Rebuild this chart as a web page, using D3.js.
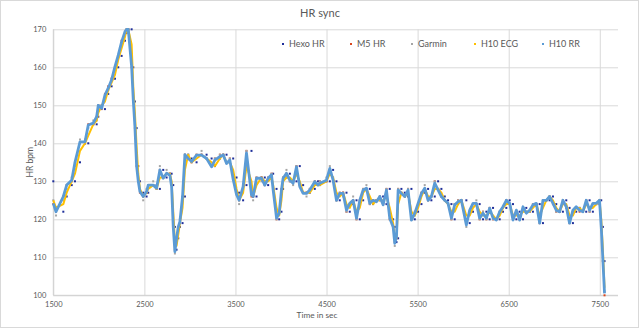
<!DOCTYPE html>
<html>
<head>
<meta charset="utf-8">
<script src="https://cdn.jsdelivr.net/npm/d3@7"></script>
<style>
  html, body { margin: 0; padding: 0; background: #fff; }
  svg { display: block; font-family: Lato, "Open Sans", "Liberation Sans", sans-serif; }
</style>
</head>
<body>
<svg id="chart" width="640" height="329"></svg>
<script>
// ---- data ----
const times = [
  1500,1530,1610,1647,1702,1738,1793,1848,1884,1939,
  1976,1994,2031,2067,2103,2140,2177,2213,2250,2287,
  2305,2323,2360,2378,2396,2415,2433,2451,2487,2524,
  2542,2597,2634,2670,2707,2744,2780,2799,2817,2835,
  2853,2872,2890,2919,2945,2981,3018,3073,3128,3183,
  3238,3274,3329,3366,3402,3438,3475,3512,3540,3584,
  3621,3676,3694,3731,3786,3822,3859,3896,3914,3951,
  3980,4005,4023,4060,4097,4133,4170,4206,4243,4280,
  4316,4371,4407,4426,4499,4536,4572,4609,4645,4682,
  4719,4755,4792,4829,4865,4902,4938,4975,5011,5048,
  5085,5121,5158,5194,5231,5249,5268,5286,5322,5359,
  5395,5432,5469,5505,5542,5578,5615,5651,5688,5725,
  5761,5798,5834,5871,5907,5944,5980,6035,6072,6108,
  6145,6181,6218,6255,6291,6328,6364,6401,6437,6474,
  6511,6547,6584,6620,6657,6693,6730,6766,6803,6840,
  6876,6913,6949,6986,7022,7059,7095,7132,7168,7205,
  7241,7278,7315,7351,7388,7424,7461,7497,7516,7534,
  7552
];
const hexoHR = [
  130,123,122,126,129,130,135,140,140,145,
  145,147,150,149,153,155,157,160,163,167,
  169,170,170,160,151,144,134,130,127,126,
  127,129,129,128,133,131,132,132,129,118,
  112,115,118,119,126,137,136,135,137,137,
  136,134,136,137,137,135,136,131,127,125,
  129,138,126,126,131,131,129,131,132,128,
  120,122,128,131,132,130,130,134,129,127,
  127,128,130,129,130,130,133,130,125,127,
  127,122,124,125,120,125,128,128,124,125,
  125,126,124,128,120,118,114,115,128,127,
  126,128,120,122,124,127,128,125,126,130,
  128,126,125,124,120,124,125,125,119,122,
  124,124,120,122,120,123,120,120,122,123,
  125,124,120,122,120,123,122,122,124,124,
  119,125,125,126,124,122,122,125,123,119,
  122,123,122,122,125,122,124,124,125,118,
  109
];
const m5HR = [
  124,122,126,129,130,135,140,140,145,145,
  147,150,149,153,155,157,160,163,167,169,
  170,170,160,151,144,134,130,127,126,127,
  129,129,128,133,131,132,132,129,118,112,
  115,118,119,126,137,136,135,137,137,136,
  134,136,137,137,135,136,131,127,125,129,
  138,126,126,131,131,129,131,132,128,120,
  122,128,131,132,130,130,134,129,127,127,
  128,130,129,130,130,133,130,125,127,127,
  122,124,125,120,125,128,128,124,125,125,
  126,124,128,120,118,114,115,128,127,126,
  128,120,122,124,127,128,125,126,130,128,
  126,125,124,120,124,125,125,119,122,124,
  124,120,122,120,123,120,120,122,123,125,
  124,120,122,120,123,122,122,124,124,119,
  125,125,126,124,122,122,125,123,119,122,
  123,122,122,125,122,124,124,125,118,109,
  100
];
const garminHR = [
  125,121,125,128,131,134,141,141,144,146,
  146,150,150,152,154,157,160,163,166,169,
  170,170,161,152,145,135,130,128,125,128,
  129,130,128,134,131,133,132,129,119,111,
  114,117,120,125,137,137,135,137,138,136,
  134,136,137,137,135,136,131,127,124,128,
  138,127,125,131,130,129,131,132,128,120,
  122,127,131,133,130,129,134,129,127,126,
  128,130,129,130,131,134,131,125,127,126,
  122,124,126,120,125,128,129,124,125,125,
  126,124,128,120,118,113,116,128,127,126,
  128,120,121,124,127,129,125,126,130,128,
  126,125,124,120,124,125,125,118,122,124,
  125,120,122,120,123,120,120,122,123,125,
  124,120,122,120,123,122,122,124,124,119,
  125,125,126,124,122,122,125,123,119,122,
  123,123,122,125,122,124,124,125,118,109,
  101
];
const h10ECG = [
  125,123,124,127,130,132,138,140,142,145,
  146,148,150,151,154,156,158,162,165,168,
  170,170,166,155,148,139,132,128,126,127,
  128,129,128,131,131,132,132,130,122,114,
  113,116,119,123,133,137,135,136,137,136,
  135,134,136,137,135,135,133,128,125,127,
  134,130,126,129,131,130,130,131,129,123,
  121,125,130,131,131,130,132,130,127,127,
  127,129,129,129,130,132,131,127,126,127,
  124,123,125,122,123,127,128,126,124,125,
  125,125,126,123,119,115,115,124,127,126,
  127,122,121,123,126,128,126,126,128,128,
  127,125,124,122,122,124,125,121,121,123,
  124,122,121,121,122,121,120,121,123,124,
  124,121,121,121,122,122,122,123,124,121,
  123,125,126,125,123,122,124,124,121,121,
  123,123,122,124,123,123,124,125,120,112,
  102
];
const h10RR = [
  124.2,122,126,129,130.3,135,140.4,140.4,144.8,145.3,
  147,150,149.2,152.7,154.5,156.7,160.2,163.2,166.7,169.4,
  170,170,160.2,151.4,144.4,134,130,127.3,126,127.3,
  129,129,128.2,133,130.8,132.1,131.6,128.6,118,111.5,
  115,118,119.4,126,137,136,135.2,136.9,136.9,136,
  133.8,135.6,136.5,136.9,134.7,135.6,130.5,126.5,125,128.6,
  137.5,126.4,126,130.8,130.8,129,130.8,131.7,127.7,120.3,
  121.6,127.7,130.8,132.1,130.3,129.5,133.8,128.6,126.8,126.8,
  127.7,129.9,129,129.5,130.3,133.4,130.3,125,126.8,126.8,
  122.4,124.2,125,120.3,125,127.7,128.2,124.2,125,124.6,
  126,123.8,127.7,120.3,118,113.7,115.4,127.7,126.8,126,
  127.7,119.8,121.6,124.2,126.8,128.2,125,126,129.5,127.7,
  126,125,124.2,120.3,123.8,124.6,125,118.5,122.4,124.2,
  124.2,120.3,121.6,120.3,122.9,120.3,119.8,122,123.3,125,
  124.2,119.8,122.4,119.8,123.3,121.6,122.4,123.8,124.2,119,
  125,125,126,124.2,122.4,122,125,123.3,119,122.4,
  123.3,122.4,122,125,122.4,124.2,124.2,125,118,109.3,
  100.5
];
const seriesNames = ["Hexo HR", "M5 HR", "Garmin", "H10 ECG", "H10 RR"];
const xTicks = [1500, 2500, 3500, 4500, 5500, 6500, 7500];
const yTicks = [100, 110, 120, 130, 140, 150, 160, 170];
const xDomain = [1500, 7700];
const yDomain = [100, 170];

// ---- layout ----
const svg = d3.select("#chart");
const W = 640, H = 329;
const plot = { left: 53.3, right: 618, top: 29.3, bottom: 295.3 };
const textColor = "#595959";
const gridColor = "#d9d9d9";

svg.append("rect").attr("x", 0.5).attr("y", 0.5).attr("width", W - 2).attr("height", H - 2)
  .attr("fill", "#fff").attr("stroke", "#d9d9d9").attr("stroke-width", 1);

const x = d3.scaleLinear().domain(xDomain).range([plot.left, plot.right]);
const y = d3.scaleLinear().domain(yDomain).range([plot.bottom, plot.top]);

// gridlines
const gx = svg.append("g").attr("transform", `translate(0,${plot.top})`)
  .call(d3.axisTop(x).tickValues(xTicks).tickSize(-(plot.bottom - plot.top)).tickFormat(""));
gx.select(".domain").remove();
gx.selectAll("line").attr("stroke", gridColor);

const gy = svg.append("g").attr("transform", `translate(${plot.left},0)`)
  .call(d3.axisLeft(y).tickValues(yTicks).tickSize(-(plot.right - plot.left)).tickFormat(""));
gy.select(".domain").remove();
gy.selectAll("line").attr("stroke", gridColor);

// axis lines
svg.append("line").attr("x1", plot.left).attr("x2", plot.right)
  .attr("y1", y(100)).attr("y2", y(100)).attr("stroke", "#d0d0d0");
svg.append("line").attr("x1", x(1500)).attr("x2", x(1500))
  .attr("y1", plot.top).attr("y2", plot.bottom).attr("stroke", "#d0d0d0");

// tick labels
const xa = svg.append("g").attr("transform", `translate(0,${plot.bottom})`)
  .call(d3.axisBottom(x).tickValues(xTicks).tickSize(0).tickPadding(6).tickFormat(d3.format("d")));
xa.select(".domain").remove();
xa.selectAll("text").attr("fill", textColor).style("font-size", "7.5px")
  .style("font-family", "Lato, 'Open Sans', sans-serif");

const ya = svg.append("g").attr("transform", `translate(${plot.left},0)`)
  .call(d3.axisLeft(y).tickValues(yTicks).tickSize(0).tickPadding(7).tickFormat(d3.format("d")));
ya.select(".domain").remove();
ya.selectAll("text").attr("fill", textColor).style("font-size", "7.5px")
  .style("font-family", "Lato, 'Open Sans', sans-serif");

// titles
svg.append("text").attr("x", 320).attr("y", 17).attr("text-anchor", "middle")
  .attr("fill", textColor).style("font-size", "11px").text("HR sync");
svg.append("text").attr("x", 317).attr("y", 317.5).attr("text-anchor", "middle")
  .attr("fill", textColor).style("font-size", "8.3px").text("Time in sec");
svg.append("text").attr("transform", `translate(33,${(plot.top + plot.bottom) / 2}) rotate(-90)`)
  .attr("text-anchor", "middle").attr("fill", textColor).style("font-size", "8.5px").text("HR bpm");

// clip
svg.append("clipPath").attr("id", "clip").append("rect")
  .attr("x", plot.left - 3).attr("y", plot.top - 3)
  .attr("width", plot.right - plot.left + 6).attr("height", plot.bottom - plot.top + 6);
const marks = svg.append("g").attr("clip-path", "url(#clip)");

function pts(vals) {
  const n = Math.min(times.length, vals.length);
  return d3.range(n).map(i => [times[i], vals[i]]);
}

function dots(vals, color) {
  marks.append("g").selectAll("rect").data(pts(vals)).join("rect")
    .attr("x", d => x(d[0]) - 1).attr("y", d => y(d[1]) - 1)
    .attr("width", 2).attr("height", 2).attr("fill", color);
}

const line = d3.line().x(d => x(d[0])).y(d => y(d[1]));

dots(hexoHR, "#1f2f9a");
dots(m5HR, "#d9461e");
dots(garminHR, "#a5a5a5");
marks.append("path").attr("d", line(pts(h10ECG))).attr("fill", "none")
  .attr("stroke", "#ffc000").attr("stroke-width", 2).attr("stroke-linejoin", "round");
marks.append("path").attr("d", line(pts(h10RR))).attr("fill", "none")
  .attr("stroke", "#5b9bd5").attr("stroke-width", 2.8).attr("stroke-linejoin", "round");

// legend
const legendColors = ["#1f2f9a", "#d9461e", "#a5a5a5", "#ffc000", "#5b9bd5"];
const legendX = [283, 351, 412, 475, 543];
const lg = svg.append("g");
seriesNames.forEach((name, i) => {
  lg.append("rect").attr("x", legendX[i] - 1).attr("y", 43).attr("width", 2).attr("height", 2)
    .attr("fill", legendColors[i]);
  lg.append("text").attr("x", legendX[i] + 6).attr("y", 47.3).attr("fill", textColor)
    .style("font-size", "9px").text(name);
});
</script>
</body>
</html>
